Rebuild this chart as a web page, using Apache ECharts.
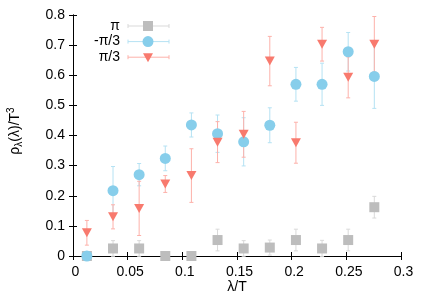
<!DOCTYPE html>
<html>
<head>
<meta charset="utf-8">
<script src="https://cdn.jsdelivr.net/npm/echarts@6/dist/echarts.min.js"></script>
<style>html,body{margin:0;padding:0;background:#fff;}#c{width:436px;height:305px;}</style>
</head>
<body>
<div id="c"></div>
<script>
// lambda/T positions
const xVals = [0.0127, 0.0366, 0.0605, 0.0844, 0.1083, 0.1322, 0.1561, 0.1800, 0.2039, 0.2278, 0.2517, 0.2756];
// series "π"
const piY   = [0, 0.025, 0.025, 0, 0, 0.053, 0.025, 0.028, 0.053, 0.025, 0.053, 0.162];
const piErr = [0, 0.026, 0.026, 0, 0, 0.036, 0.026, 0.025, 0.036, 0.027, 0.036, 0.036];
// series "-π/3"
const mY   = [0, 0.217, 0.270, 0.324, 0.435, 0.406, 0.379, 0.434, 0.570, 0.570, 0.678, 0.596];
const mErr = [0, 0.080, 0.037, 0.041, 0.040, 0.062, 0.080, 0.058, 0.056, 0.070, 0.064, 0.106];
// series "π/3"
const pY   = [0.077, 0.130, 0.158, 0.239, 0.267, 0.378, 0.404, 0.647, 0.376, 0.703, 0.593, 0.703];
const pErr = [0.041, 0.040, 0.090, 0.028, 0.089, 0.068, 0.076, 0.082, 0.068, 0.056, 0.068, 0.092];
// tick settings
const xTicks = {min: 0, max: 0.3, interval: 0.05};
const yTicks = {min: 0, max: 0.8, interval: 0.1};
const names = ['π', '-π/3', 'π/3'];

const colGray = '#bdbdbd', colBlue = '#87ceeb', colRed = '#f87a6e';
const errGray = '#d9d9d9', errBlue = '#b5e2f3', errRed = '#fdb1aa';

function pts(ys) { return xVals.map((x, i) => [x, ys[i]]); }
function errs(ys, es) { return xVals.map((x, i) => [x, ys[i], es[i]]); }

function errSeries(data, color) {
  return {
    type: 'custom',
    data: data,
    clip: false,
    silent: true,
    renderItem: function (params, api) {
      const x = api.value(0), y = api.value(1), e = api.value(2);
      if (!e) return null;
      const t = api.coord([x, y + e]);
      const b = api.coord([x, y - e]);
      const w = 2;
      const st = {stroke: color, lineWidth: 1};
      return {
        type: 'group',
        children: [
          {type: 'line', shape: {x1: t[0], y1: t[1], x2: b[0], y2: b[1]}, style: st},
          {type: 'line', shape: {x1: t[0] - w, y1: t[1], x2: t[0] + w, y2: t[1]}, style: st},
          {type: 'line', shape: {x1: b[0] - w, y1: b[1], x2: b[0] + w, y2: b[1]}, style: st}
        ]
      };
    }
  };
}

const chart = echarts.init(document.getElementById('c'));
const axisCommon = {
  axisLine: {show: true, lineStyle: {color: '#000', width: 1}},
  axisTick: {show: true, inside: true, length: 4, lineStyle: {color: '#000'}},
  splitLine: {show: false}
};
const lblFont = {color: '#000', fontFamily: 'Liberation Sans, Arial, sans-serif', fontSize: 14};

// legend graphic
const legRows = [
  {name: names[0], color: colGray, err: errGray, sym: 'rect'},
  {name: names[1], color: colBlue, err: errBlue, sym: 'circle'},
  {name: names[2], color: colRed, err: errRed, sym: 'tri'}
];
const graphics = [];
legRows.forEach((r, i) => {
  const y = 26 + i * 15.6;
  graphics.push({type: 'text', left: null, x: 120, y: y, style: {text: r.name, textAlign: 'right', textVerticalAlign: 'middle', fill: '#000', font: '14px "Liberation Sans", Arial, sans-serif'}});
  graphics.push({type: 'line', shape: {x1: 128, y1: y, x2: 169, y2: y}, style: {stroke: r.err, lineWidth: 1}});
  graphics.push({type: 'line', shape: {x1: 128, y1: y - 2, x2: 128, y2: y + 2}, style: {stroke: r.err, lineWidth: 1}});
  graphics.push({type: 'line', shape: {x1: 169, y1: y - 2, x2: 169, y2: y + 2}, style: {stroke: r.err, lineWidth: 1}});
  if (r.sym === 'rect') graphics.push({type: 'rect', shape: {x: 143, y: y - 5, width: 10, height: 10}, style: {fill: r.color}});
  if (r.sym === 'circle') graphics.push({type: 'circle', shape: {cx: 148, cy: y, r: 5.5}, style: {fill: r.color}});
  if (r.sym === 'tri') graphics.push({type: 'polygon', shape: {points: [[143, y - 4], [153, y - 4], [148, y + 5]]}, style: {fill: r.color}});
});
graphics.push({type: 'text', x: 237, y: 287, style: {text: 'λ/T', textAlign: 'center', textVerticalAlign: 'middle', fill: '#000', font: '14px "Liberation Sans", Arial, sans-serif'}});
graphics.push({type: 'text', x: 15, y: 131, rotation: Math.PI / 2,
  style: {text: '{a|ρ}{s|λ}{a|(λ)/T}{p|3}', textAlign: 'center', textVerticalAlign: 'middle', fill: '#000',
    rich: {
      a: {fontSize: 14, fontFamily: 'Liberation Sans', fill: '#000', height: 18},
      s: {fontSize: 10, fontFamily: 'Liberation Sans', fill: '#000', padding: [8, 0, 0, 0], height: 18},
      p: {fontSize: 10, fontFamily: 'Liberation Sans', fill: '#000', padding: [0, 0, 8, 0], height: 18}
    }}});

chart.setOption({
  animation: false,
  backgroundColor: '#fff',
  grid: {left: 73, right: 35, top: 15, bottom: 49, containLabel: false},
  xAxis: [
    Object.assign({type: 'value', min: xTicks.min, max: xTicks.max, interval: xTicks.interval, position: 'bottom',
      axisLabel: Object.assign({margin: 9, padding: [0, 0, 0, 5], formatter: v => String(+v.toFixed(2))}, lblFont)}, axisCommon),
    Object.assign({type: 'value', min: xTicks.min, max: xTicks.max, interval: xTicks.interval, position: 'top',
      axisLabel: {show: false}}, axisCommon)
  ],
  yAxis: [
    Object.assign({type: 'value', min: yTicks.min, max: yTicks.max, interval: yTicks.interval, position: 'left',
      axisLabel: Object.assign({margin: 8, formatter: v => String(+v.toFixed(1))}, lblFont)}, axisCommon),
    Object.assign({type: 'value', min: yTicks.min, max: yTicks.max, interval: yTicks.interval, position: 'right',
      axisLabel: {show: false}}, axisCommon)
  ],
  series: [
    errSeries(errs(piY, piErr), errGray),
    {type: 'scatter', data: pts(piY), symbol: 'rect', symbolSize: 10, clip: false, itemStyle: {color: colGray, opacity: 1}},
    errSeries(errs(mY, mErr), errBlue),
    {type: 'scatter', data: pts(mY), symbol: 'circle', symbolSize: 11, clip: false, itemStyle: {color: colBlue, opacity: 1}},
    errSeries(errs(pY, pErr), errRed),
    {type: 'scatter', data: pts(pY), symbol: 'triangle', symbolRotate: 180, symbolSize: [10, 9], clip: false, itemStyle: {color: colRed, opacity: 1}}
  ],
  graphic: graphics
});
</script>
</body>
</html>
